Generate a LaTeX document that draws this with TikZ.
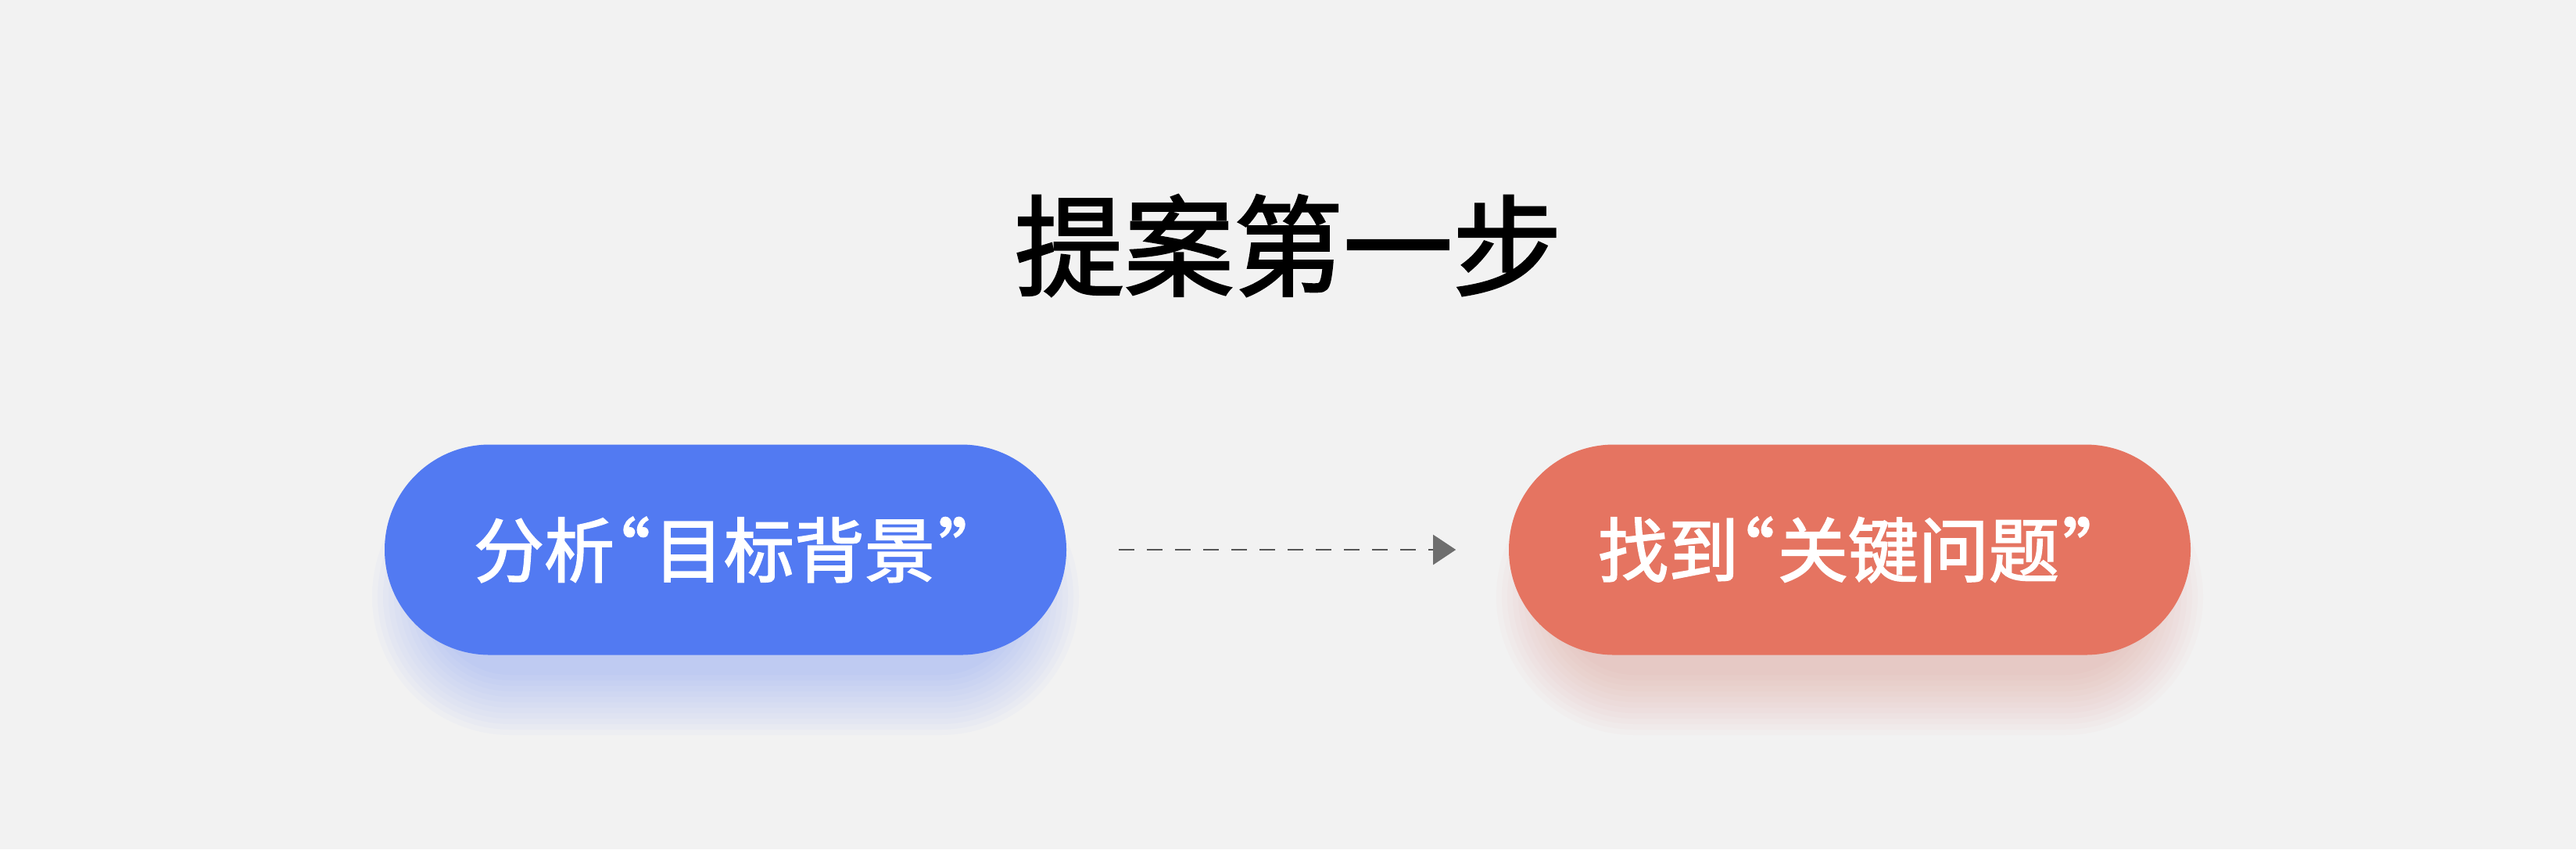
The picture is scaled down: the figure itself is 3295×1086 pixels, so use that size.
\documentclass[tikz,border=0pt]{standalone}
\usepackage{fontspec}
\setmainfont{Noto Sans CJK SC}
\newfontfamily\cjkmed[FakeBold=2]{Noto Sans CJK SC}
\usetikzlibrary{arrows.meta}
\definecolor{bgc}{HTML}{F2F2F2}
\definecolor{bluep}{HTML}{527AF2}
\definecolor{redp}{HTML}{E57461}
\definecolor{linec}{HTML}{555555}
\definecolor{tipc}{HTML}{6E6E6E}
\newcommand{\myopenq}{\hspace{-11pt}“\hspace{1pt}}
\newcommand{\myclosq}{\hspace{1pt}”\hspace{-16pt}}
\tikzset{
  pill/.style={rectangle, rounded corners=33.6pt, inner sep=0pt,
    minimum width=218pt, minimum height=67.25pt, fill=#1, text=white,
    font=\cjkmed\fontsize{22.5pt}{26pt}\selectfont},
  titletext/.style={inner sep=0pt, text=black, font=\cjkmed\fontsize{35pt}{40pt}\selectfont},
  flow/.style={draw=linec, line width=0.6pt, dash pattern=on 5pt off 4pt,
    -{Triangle[length=7.25pt,width=9.5pt,fill=tipc,color=tipc]}},
}
\newcommand{\pillshadow}[3]{% x y color
  \foreach \r in {0,7,...,77}{
    \fill[#3, opacity=0.028, rounded corners={(100+\r)*0.25pt}]
      ({#1-375-\r},{#2+60-100-\r}) rectangle ({#1+375+\r},{#2+60+100+\r});
  }
}
\begin{document}
\begin{tikzpicture}[x=0.25pt,y=-0.25pt]
  \fill[bgc] (0,0) rectangle (3295,1086);
  \useasboundingbox (0,0) rectangle (3295,1086);
  \pillshadow{928}{703}{bluep}
  \pillshadow{2366}{703}{redp}
  \node[titletext] (title) at (1648,314) {提案第一步};
  \node[pill=bluep] (a) at (928,703) {\hspace{10pt}分析\myopenq 目标背景\myclosq};
  \node[pill=redp] (b) at (2366,703) {\hspace{10pt}找到\myopenq 关键问题\myclosq};
  \draw[flow, shorten <=16.5pt, shorten >=16.75pt] (a.east) -- (b.west);
\end{tikzpicture}
\end{document}
